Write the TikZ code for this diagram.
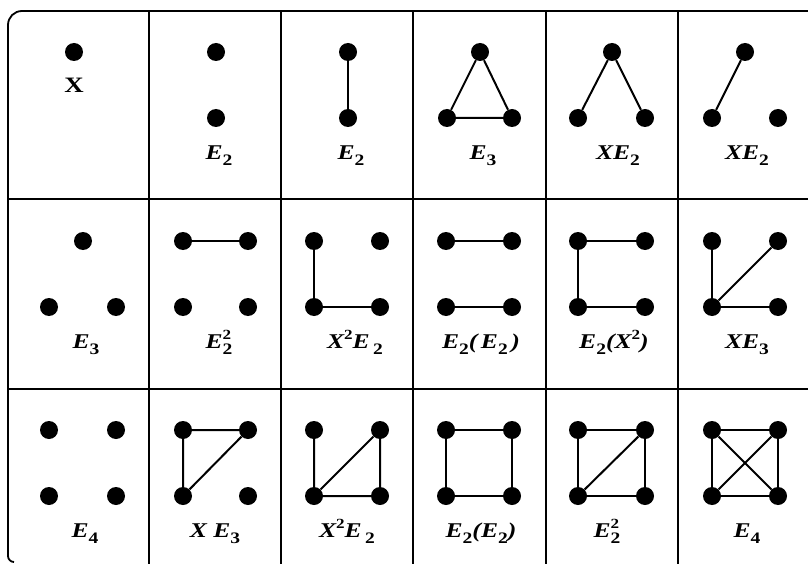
\documentclass[tikz,border=0pt]{standalone}
\usepackage{fontspec}
\setmainfont{Liberation Serif}
\newfontfamily\labfont[FakeStretch=1.22]{Liberation Serif}
\newcommand\dnx[1]{\raisebox{-6pt}{\fontsize{16}{16}\selectfont\upshape #1}}
\newcommand\upx[1]{\raisebox{9pt}{\fontsize{14}{14}\selectfont\upshape #1}}
\newcommand\bothx[2]{\rlap{\upx{#1}}\dnx{#2}}
\tikzset{
  dot/.style={circle,fill=black,draw=none,minimum size=18pt,inner sep=0pt},
  edge/.style={line width=2pt},
  frame/.style={line width=1.8pt},
  lab/.style={anchor=base,inner sep=0pt,font=\labfont\fontsize{21}{24}\selectfont\bfseries\itshape}
}
\begin{document}
\begin{tikzpicture}[x=1pt,y=-1pt]
\fill[white] (0,0) rectangle (808,564);
\useasboundingbox (0,0) rectangle (808,564);
% frame and grid
\draw[frame,rounded corners=14pt] (8,450) -- (8,11) -- (808,11);
\draw[frame,rounded corners=6pt] (8,440) -- (8,562) -- (14,562);
\foreach \x in {149,281,413,546,678} \draw[frame] (\x,11) -- (\x,564);
\foreach \y in {199,389} \draw[frame] (8,\y) -- (808,\y);
% ---------- row 1 ----------
\node[dot] (a1) at (74,52) {};
\node[lab,font=\labfont\fontsize{22}{24}\selectfont\bfseries] (la1) at (74,93) {X};
\node[dot] (b1t) at (216,52) {};
\node[dot] (b1b) at (216,118) {};
\node[lab] (lb1) at (219,160) {E\dnx{2}};
\node[dot] (c1t) at (348,52) {};
\node[dot] (c1b) at (348,118) {};
\draw[edge] (c1t) -- (c1b);
\node[lab] (lc1) at (351,160) {E\dnx{2}};
\node[dot] (d1t) at (480,52) {};
\node[dot] (d1l) at (447,118) {};
\node[dot] (d1r) at (512,118) {};
\draw[edge] (d1t) -- (d1l) -- (d1r) -- (d1t);
\node[lab] (ld1) at (483,160) {E\dnx{3}};
\node[dot] (e1t) at (612,52) {};
\node[dot] (e1l) at (578,118) {};
\node[dot] (e1r) at (645,118) {};
\draw[edge] (e1l) -- (e1t) -- (e1r);
\node[lab] (le1) at (618,160) {XE\dnx{2}};
\node[dot] (f1t) at (745,52) {};
\node[dot] (f1l) at (712,118) {};
\node[dot] (f1r) at (778,118) {};
\draw[edge] (f1t) -- (f1l);
\node[lab] (lf1) at (747,160) {XE\dnx{2}};
% ---------- row 2 ----------
\node[dot] (a2t) at (83,241) {};
\node[dot] (a2l) at (49,307) {};
\node[dot] (a2r) at (116,307) {};
\node[lab] (la2) at (86,348) {E\dnx{3}};
\node[dot] (b2tl) at (183,241) {};
\node[dot] (b2tr) at (248,241) {};
\node[dot] (b2bl) at (183,307) {};
\node[dot] (b2br) at (248,307) {};
\draw[edge] (b2tl) -- (b2tr);
\node[lab] (lb2) at (219,348) {E\bothx{2}{2}};
\node[dot] (c2tl) at (314,241) {};
\node[dot] (c2tr) at (380,241) {};
\node[dot] (c2bl) at (314,307) {};
\node[dot] (c2br) at (380,307) {};
\draw[edge] (c2tl) -- (c2bl) -- (c2br);
\node[lab] (lc2) at (355,348) {X\upx{2}E\,\dnx{2}};
\node[dot] (d2tl) at (446,241) {};
\node[dot] (d2tr) at (512,241) {};
\node[dot] (d2bl) at (446,307) {};
\node[dot] (d2br) at (512,307) {};
\draw[edge] (d2tl) -- (d2tr);
\draw[edge] (d2bl) -- (d2br);
\node[lab] (ld2) at (481,348) {E\dnx{2}(\,E\dnx{2}\,)};
\node[dot] (e2tl) at (578,241) {};
\node[dot] (e2tr) at (645,241) {};
\node[dot] (e2bl) at (578,307) {};
\node[dot] (e2br) at (645,307) {};
\draw[edge] (e2tr) -- (e2tl) -- (e2bl) -- (e2br);
\node[lab] (le2) at (614,348) {E\dnx{2}(X\upx{2})};
\node[dot] (f2tl) at (712,241) {};
\node[dot] (f2tr) at (778,241) {};
\node[dot] (f2bl) at (712,307) {};
\node[dot] (f2br) at (778,307) {};
\draw[edge] (f2tl) -- (f2bl) -- (f2br);
\draw[edge] (f2bl) -- (f2tr);
\node[lab] (lf2) at (747,348) {XE\dnx{3}};
% ---------- row 3 ----------
\node[dot] (a3tl) at (49,430) {};
\node[dot] (a3tr) at (116,430) {};
\node[dot] (a3bl) at (49,496) {};
\node[dot] (a3br) at (116,496) {};
\node[lab] (la3) at (85,537) {E\dnx{4}};
\node[dot] (b3tl) at (183,430) {};
\node[dot] (b3tr) at (248,430) {};
\node[dot] (b3bl) at (183,496) {};
\node[dot] (b3br) at (248,496) {};
\draw[edge] (b3tl) -- (b3tr) -- (b3bl) -- (b3tl);
\node[lab] (lb3) at (215,537) {X E\dnx{3}};
\node[dot] (c3tl) at (314,430) {};
\node[dot] (c3tr) at (380,430) {};
\node[dot] (c3bl) at (314,496) {};
\node[dot] (c3br) at (380,496) {};
\draw[edge] (c3tl) -- (c3bl) -- (c3br) -- (c3tr) -- (c3bl);
\node[lab] (lc3) at (347,537) {X\upx{2}E\,\dnx{2}};
\node[dot] (d3tl) at (446,430) {};
\node[dot] (d3tr) at (512,430) {};
\node[dot] (d3bl) at (446,496) {};
\node[dot] (d3br) at (512,496) {};
\draw[edge] (d3tl) -- (d3tr) -- (d3br) -- (d3bl) -- (d3tl);
\node[lab] (ld3) at (481,537) {E\dnx{2}(E\dnx{2})};
\node[dot] (e3tl) at (578,430) {};
\node[dot] (e3tr) at (645,430) {};
\node[dot] (e3bl) at (578,496) {};
\node[dot] (e3br) at (645,496) {};
\draw[edge] (e3tl) -- (e3tr) -- (e3br) -- (e3bl) -- (e3tl);
\draw[edge] (e3bl) -- (e3tr);
\node[lab] (le3) at (607,537) {E\bothx{2}{2}};
\node[dot] (f3tl) at (712,430) {};
\node[dot] (f3tr) at (778,430) {};
\node[dot] (f3bl) at (712,496) {};
\node[dot] (f3br) at (778,496) {};
\draw[edge] (f3tl) -- (f3tr) -- (f3br) -- (f3bl) -- (f3tl);
\draw[edge] (f3bl) -- (f3tr);
\draw[edge] (f3tl) -- (f3br);
\node[lab] (lf3) at (747,537) {E\dnx{4}};
\end{tikzpicture}
\end{document}
